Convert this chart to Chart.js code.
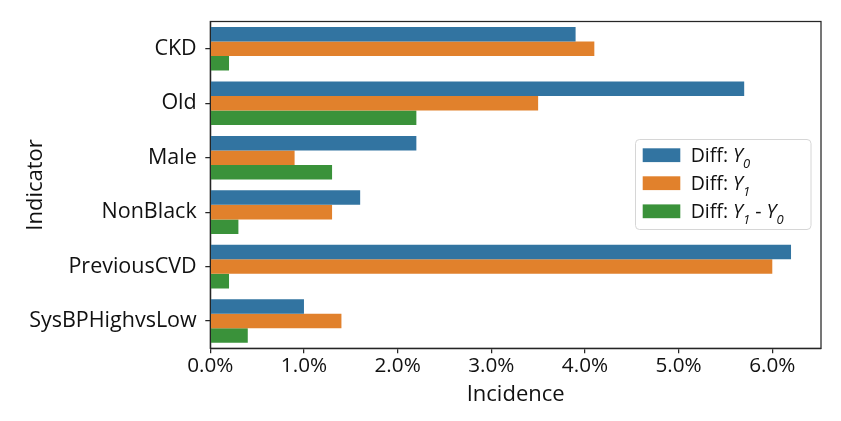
<!DOCTYPE html>
<html><head><meta charset="utf-8">
<script src="https://cdn.jsdelivr.net/npm/chart.js@4.4.0/dist/chart.umd.min.js"></script>
<style>html,body{margin:0;padding:0;background:#fff;}#wrap{width:841px;height:421px;position:relative;}</style>
</head><body><div id="wrap"><canvas id="c" width="841" height="421"></canvas></div>
<script>
const categories = ["CKD", "Old", "Male", "NonBlack", "PreviousCVD", "SysBPHighvsLow"];
const diffY0 = [3.9, 5.7, 2.2, 1.6, 6.2, 1.0];
const diffY1 = [4.1, 3.5, 0.9, 1.3, 6.0, 1.4];
const diffY1mY0 = [0.2, 2.2, 1.3, 0.3, 0.2, 0.4];
const xTicks = [0, 1, 2, 3, 4, 5, 6];
const xMax = 6.52;
const colors = ["#3274a1", "#e1812c", "#3a923a"];
const legendParts = [
  [["Diff: ", 0], ["Y", 1], ["0", 2]],
  [["Diff: ", 0], ["Y", 1], ["1", 2]],
  [["Diff: ", 0], ["Y", 1], ["1", 2], [" - ", 0], ["Y", 1], ["0", 2]]
];
const FONT = "'Open Sans'";
const ink = "#111111";

const framePlugin = {
  id: 'frame',
  afterDatasetsDraw(chart) {
    const ctx = chart.ctx, a = chart.chartArea;
    ctx.save();
    ctx.strokeStyle = "#262626"; ctx.lineWidth = 1.25;
    ctx.strokeRect(a.left, a.top, a.right - a.left, a.bottom - a.top);
    // legend
    const bx = 635.5, by = 139.5, bw = 175.5, bh = 90, r = 4;
    ctx.beginPath();
    ctx.moveTo(bx + r, by); ctx.lineTo(bx + bw - r, by); ctx.quadraticCurveTo(bx + bw, by, bx + bw, by + r);
    ctx.lineTo(bx + bw, by + bh - r); ctx.quadraticCurveTo(bx + bw, by + bh, bx + bw - r, by + bh);
    ctx.lineTo(bx + r, by + bh); ctx.quadraticCurveTo(bx, by + bh, bx, by + bh - r);
    ctx.lineTo(bx, by + r); ctx.quadraticCurveTo(bx, by, bx + r, by);
    ctx.closePath();
    ctx.fillStyle = "rgba(255,255,255,0.8)"; ctx.fill();
    ctx.strokeStyle = "#d6d6d6"; ctx.lineWidth = 1; ctx.stroke();
    const rows = [155.2, 183.2, 211.3];
    for (let i = 0; i < 3; i++) {
      ctx.fillStyle = colors[i];
      ctx.fillRect(642.7, rows[i] - 6.9, 37.6, 13.8);
      let x = 690.7;
      const base = rows[i] + 7;
      ctx.fillStyle = ink; ctx.textBaseline = 'alphabetic'; ctx.textAlign = 'left';
      for (const [t, k] of legendParts[i]) {
        if (k === 0) { ctx.font = `19.5px ${FONT}`; ctx.fillText(t, x, base); }
        else if (k === 1) { ctx.font = `italic 19.5px ${FONT}`; ctx.fillText(t, x, base); }
        else { ctx.font = `italic 13px ${FONT}`; ctx.fillText(t, x, base + 6); }
        x += ctx.measureText(t).width;
      }
    }
    ctx.restore();
  }
};

const mk = (label, data, i) => ({label, data, backgroundColor: colors[i], borderWidth: 0, categoryPercentage: 0.8, barPercentage: 1.0});

new Chart(document.getElementById('c'), {
  type: 'bar',
  data: {labels: categories, datasets: [mk("Diff: Y0", diffY0, 0), mk("Diff: Y1", diffY1, 1), mk("Diff: Y1 - Y0", diffY1mY0, 2)]},
  options: {
    indexAxis: 'y', responsive: false, animation: false, devicePixelRatio: 1,
    layout: {padding: {top: 20.7, right: 20, left: 0, bottom: 0}},
    plugins: {legend: {display: false}, tooltip: {enabled: false}},
    scales: {
      x: {
        min: 0, max: xMax,
        afterFit(s) { s.height = 421 - 20.7 - 327.6 ; },
        afterBuildTicks(s) { s.ticks = xTicks.map(v => ({value: v})); },
        ticks: {includeBounds: false, padding: 0, color: ink, font: {family: FONT, size: 20.7}, callback: v => v.toFixed(1) + '%', maxRotation: 0},
        grid: {drawOnChartArea: false, drawTicks: true, tickLength: 5, color: "#262626", lineWidth: 1.25},
        border: {display: true, color: "#262626", width: 1.25},
        title: {display: true, text: "Incidence", color: ink, font: {family: FONT, size: 22}, padding: {top: 0, bottom: 13}}
      },
      y: {
        afterFit(s) { s.width = 210.3; },
        ticks: {padding: 8.6, color: ink, font: {family: FONT, size: 21.5}},
        grid: {offset: false, drawOnChartArea: false, drawTicks: true, tickLength: 5, color: "#262626", lineWidth: 1.25},
        border: {display: true, color: "#262626", width: 1.25},
        title: {display: true, text: "Indicator", color: ink, font: {family: FONT, size: 22}, padding: {top: 23, bottom: 0}}
      }
    }
  },
  plugins: [framePlugin]
});
</script></body></html>
